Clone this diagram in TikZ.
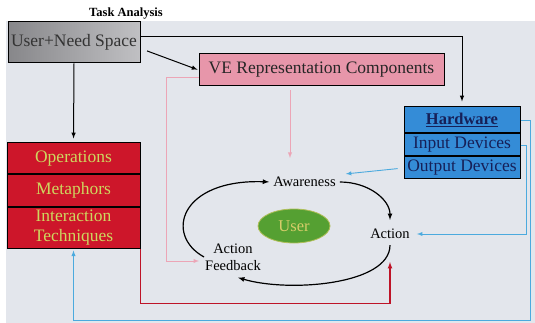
\documentclass[tikz,border=0pt]{standalone}
\usepackage{fontspec}
\setmainfont{Liberation Serif}
\usepackage{tikz}
\usetikzlibrary{calc,shapes.geometric}
\definecolor{panel}{RGB}{227,230,236}
\definecolor{unsdark}{RGB}{135,135,138}
\definecolor{unslight}{RGB}{192,192,195}
\definecolor{vepink}{RGB}{231,150,170}
\definecolor{pinkln}{RGB}{236,165,182}
\definecolor{hwblue}{RGB}{52,140,215}
\definecolor{hwtext}{RGB}{22,32,88}
\definecolor{opred}{RGB}{205,22,42}
\definecolor{optext}{RGB}{205,215,95}
\definecolor{usergreen}{RGB}{85,160,50}
\definecolor{usertext}{RGB}{215,205,105}
\definecolor{blueln}{RGB}{75,170,222}
\definecolor{redln}{RGB}{190,20,40}

\begin{document}
\begin{tikzpicture}[x=1pt,y=-1pt,>=latex,
		box/.style={draw,line width=1pt,inner sep=0pt,font=\fontsize{17.5}{20}\selectfont},
		redbox/.style={box,fill=opred,text=optext,minimum width=133pt},
		bluebox/.style={box,fill=hwblue,text=hwtext,minimum width=116pt},
		lab/.style={font=\fontsize{14.5}{17}\selectfont,inner sep=1pt},
		cyc/.style={->,line width=1.2pt},
		pinkarr/.style={->,draw=pinkln,line width=0.9pt},
		bluearr/.style={->,draw=blueln,line width=0.9pt},
	]
		\newcommand{\hwx}{462}
		\useasboundingbox (0,0) rectangle (535,323);
		\fill[panel] (6,21) rectangle (535,323); %背景
		\node[font=\bfseries\fontsize{12.5}{14}\selectfont] (task) at (126,14) {Task Analysis};
		\node[box,left color=unsdark,right color=unslight,text=black!80,minimum width=132pt,minimum height=41pt] (uns) at (74,42.5) {User+Need Space};
		\node[box,fill=vepink,text=black!85,minimum width=245pt,minimum height=32pt] (ve) at (321.5,70) {VE Representation Components};
		% Hardware
		\node[bluebox,minimum height=26pt,font=\bfseries\fontsize{16.5}{18}\selectfont] (hw) at (\hwx,120) {\underline{Hardware}};
		\node[bluebox,minimum height=22pt,anchor=north] (hwin) at (hw.south) {Input Devices};
		\node[bluebox,minimum height=22pt,anchor=north] (hwout) at (hwin.south) {Output Devices};
		% Operations
		\node[redbox,minimum height=31pt] (ops) at (73.5,158.5) {Operations};
		\node[redbox,minimum height=31pt,anchor=north] (meta) at (ops.south) {Metaphors};
		\node[redbox,minimum height=41pt,anchor=north,align=center] (inter) at (meta.south) {Interaction\\Techniques};
		% cycle
		\node[ellipse,draw=usertext!70!usergreen,line width=0.8pt,fill=usergreen,text=usertext,minimum width=72pt,minimum height=34pt,font=\fontsize{16.5}{18}\selectfont] (user) at (294,226) {User};
		\node[lab] (aware) at (304.5,182) {Awareness};
		\node[lab] (act) at (390,234) {Action};
		\node[lab,align=center] (fb) at (233,257) {Action\\Feedback};
		\draw[cyc,shorten <=3pt,shorten >=8pt] (aware.east) .. controls +(32,0) and +(0,-28) .. (act.north); %Awareness->Action
		\draw[cyc,shorten <=5pt] (act.south) .. controls +(0,45) and +(50,15) .. ([xshift=5pt,yshift=-6pt]fb.south); %Action->Feedback
		\draw[cyc,shorten >=3pt] (fb.west) .. controls +(-40,-22) and +(-92,-3) .. (aware.west); %Feedback->Awareness
		% connectors
		\draw[->,line width=1pt,shorten >=5pt] ([yshift=5.5pt]uns.east) -| (hw.north);
		\draw[->,line width=1pt,shorten <=7pt,shorten >=1pt] ([yshift=-6pt]uns.east) -- (ve.west);
		\draw[->,line width=1pt,shorten >=4pt] (uns.south) -- (ops.north);
		\coordinate (vetip) at (290,158);
		\draw[pinkarr,shorten <=4pt] (ve.south -| vetip) -- (vetip);
		\draw[pinkarr,shorten >=5pt] ([yshift=-7pt]ve.west) -- ++(-32,0) |- ([yshift=-4pt]fb.west);
		\draw[bluearr,shorten <=6pt,shorten >=1pt] (hwout.west) -- ([xshift=8pt,yshift=8pt]aware.east);
		\draw[bluearr,shorten >=6pt] (hwin.east) -- ++(6,0) |- (act.east);
		\coordinate (bend) at (530,320);
		\draw[bluearr,shorten >=2pt] (hw.east) -| (bend) -| (inter.south);
		\draw[->,draw=redln,line width=1.2pt] (inter.south east) -- ++(0,55) -| ([yshift=-22pt]act.south);
	\end{tikzpicture}
\end{document}
